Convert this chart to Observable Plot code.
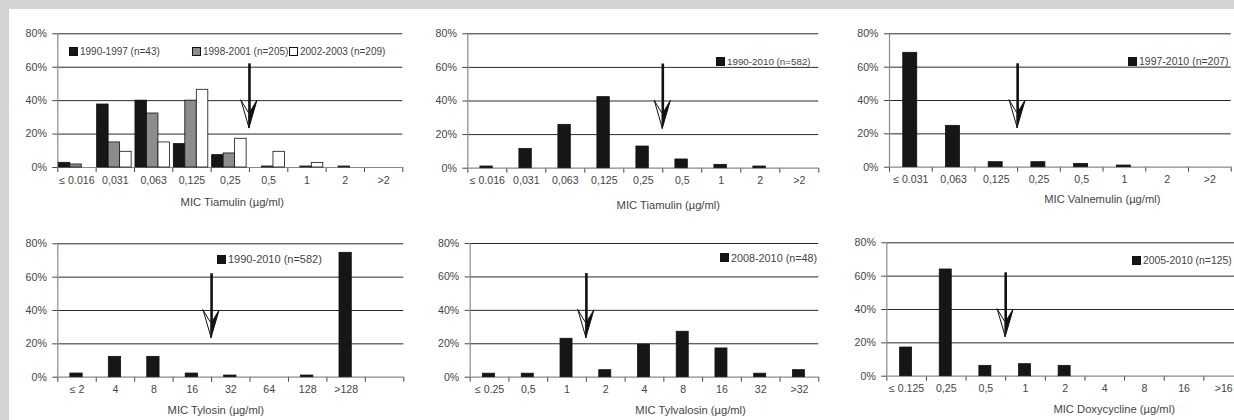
<!DOCTYPE html>
<html>
<head>
<meta charset="utf-8">
<script src="https://cdn.jsdelivr.net/npm/d3@7"></script>
<script src="https://cdn.jsdelivr.net/npm/@observablehq/plot@0.6"></script>
<style>
  html, body { margin: 0; padding: 0; overflow: hidden; background: #d3d3d3; }
  #wrap { position: relative; width: 1234px; height: 420px; overflow: hidden; background: #d3d3d3; font-family: 'Liberation Sans', Arial, sans-serif; }
  #paper { position: absolute; left: 9px; top: 9px; right: 0; bottom: 0; background: #fff; }
  .panel { position: absolute; }
  .legend { position: absolute; display: flex; align-items: center; height: 14px; color: #444; white-space: nowrap; }
  .sw { display: inline-block; width: 7px; height: 7px; border: 0.8px solid #111; margin-right: 2px; }
</style>
</head>
<body>
<div id="wrap"><div id="paper"></div></div>
<script>
// ---------- data ----------
const yTicks = [0, 20, 40, 60, 80];
const gridLevels = [20, 40, 60, 80];

const tiamulinCats = ["≤ 0.016", "0,031", "0,063", "0,125", "0,25", "0,5", "1", "2", ">2"];
const tiamulinSeriesNames = ["1990-1997 (n=43)", "1998-2001 (n=205)", "2002-2003 (n=209)"];
const tiamulin1990_1997 = [2.8, 37.7, 40, 14, 7.4, 0, 0, 0, 0];
const tiamulin1998_2001 = [1.8, 15, 32.3, 40, 8.4, 0.6, 0.6, 0.6, 0];
const tiamulin2002_2003 = [0, 9.4, 15, 46.5, 17.2, 9.4, 2.7, 0, 0];

const tiamulinAllName = "1990-2010 (n=582)";
const tiamulin1990_2010 = [1, 11.5, 25.8, 42.3, 12.9, 5.2, 2, 1, 0];

const valnemulinCats = ["≤ 0.031", "0,063", "0,125", "0,25", "0,5", "1", "2", ">2"];
const valnemulinName = "1997-2010 (n=207)";
const valnemulin = [68.6, 24.8, 3, 3, 2, 1, 0, 0];

const tylosinCats = ["≤ 2", "4", "8", "16", "32", "64", "128", ">128", ""];
const tylosinName = "1990-2010 (n=582)";
const tylosin = [2.2, 12.2, 12.2, 2.2, 1, 0, 1, 74.6, 0];

const tylvalosinCats = ["≤ 0.25", "0,5", "1", "2", "4", "8", "16", "32", ">32"];
const tylvalosinName = "2008-2010 (n=48)";
const tylvalosin = [2.1, 2.1, 23, 4.2, 19.5, 27.2, 17.2, 2.1, 4.2];

const doxyCats = ["≤ 0.125", "0,25", "0,5", "1", "2", "4", "8", "16", ">16"];
const doxyName = "2005-2010 (n=125)";
const doxycycline = [17.2, 64, 6.2, 7.2, 6.2, 0, 0, 0, 0];

// breakpoint arrows: index of the category boundary, and arrow levels in %
const arrowBreaks = [5, 5, 3, 4, 3, 3];
const arrowTop = 62, arrowHead = 40, arrowNotch = 32, arrowTip = 23.5;

const titles = ["MIC Tiamulin (µg/ml)", "MIC Tiamulin (µg/ml)", "MIC Valnemulin (µg/ml)",
                "MIC Tylosin (µg/ml)", "MIC Tylvalosin (µg/ml)", "MIC Doxycycline (µg/ml)"];

// ---------- styles ----------
const BLACK = "#161616", GREY = "#8c8c8c", WHITE = "#ffffff";
const FONT = "'Liberation Sans', Arial, sans-serif";

function panel(cfg) {
  const {left, top, width, height, ml, mr, mt, mb, cats, series, bar, arrowAt, title, tdx, tdy, fs, legend} = cfg;
  const n = cats.length;
  const step = (width - ml - mr) / n;
  const hw = 8 / step;
  const marks = [];
  marks.push(Plot.ruleY(gridLevels, {stroke: "#2a2a2a", strokeWidth: 1}));
  marks.push(Plot.ruleY([0], {stroke: "#8a8a8a", strokeWidth: 1.2}));
  marks.push(Plot.ruleX([0], {y1: 0, y2: 80, stroke: "#8a8a8a", strokeWidth: 1.2}));
  series.forEach((s, k) => {
    const data = s.values.map((v, i) => ({i, v})).filter(d => d.v > 0);
    let il, ir;
    if (series.length > 1) { il = bar.offset + k * bar.w; ir = step - il - bar.w; }
    else { il = (step - bar.w) / 2 + (bar.shift || 0); ir = step - il - bar.w; }
    marks.push(Plot.rect(data, {x1: "i", x2: d => d.i + 1, y1: () => 0, y2: "v",
      fill: s.fill, stroke: "#111", strokeWidth: 0.8, insetLeft: il, insetRight: ir}));
  });
  marks.push(Plot.text(cats, {x: (d, i) => i + 0.5, frameAnchor: "bottom", dy: 16, text: d => d}));
  marks.push(Plot.text([title], {frameAnchor: "bottom", dx: tdx, dy: tdy, text: d => d, fontSize: 11.2}));
  // arrow
  const k = arrowAt;
  marks.push(Plot.ruleX([k], {x: d => d, y1: arrowTop, y2: arrowNotch, stroke: "#111", strokeWidth: 2.6}));
  marks.push(Plot.area([{x: k - hw, a: arrowHead, b: arrowHead}, {x: k, a: arrowTip, b: arrowNotch}],
    {x1: "x", y1: "a", y2: "b", fill: "#fff", stroke: "#111", strokeWidth: 1}));
  marks.push(Plot.area([{x: k, a: arrowTip, b: arrowNotch}, {x: k + hw, a: arrowHead, b: arrowHead}],
    {x1: "x", y1: "a", y2: "b", fill: "#111", stroke: "#111", strokeWidth: 1}));

  const svg = Plot.plot({
    width, height, marginLeft: ml, marginRight: mr, marginTop: mt, marginBottom: mb,
    x: {type: "linear", domain: [0, n], ticks: d3.range(n + 1), tickFormat: () => "", tickSize: 5, label: null},
    y: {domain: [0, 80], ticks: yTicks, tickFormat: d => d + "%", tickSize: 5, tickPadding: 6, label: null},
    style: {background: "transparent", fontFamily: FONT, fontSize: fs + "px", color: "#454545", overflow: "visible"},
    marks
  });
  const div = document.createElement("div");
  div.className = "panel";
  div.style.left = left + "px";
  div.style.top = top + "px";
  div.style.width = width + "px";
  div.style.height = height + "px";
  div.appendChild(svg);
  document.getElementById("wrap").appendChild(div);

  legend.items.forEach((it, j) => {
    const el = document.createElement("div");
    el.className = "legend";
    el.style.left = legend.xs[j] + "px";
    el.style.top = (legend.y - 7) + "px";
    el.style.fontSize = legend.fs + "px";
    const sw = document.createElement("span");
    sw.className = "sw";
    sw.style.background = it.fill;
    el.appendChild(sw);
    el.appendChild(document.createTextNode(it.name));
    document.getElementById("wrap").appendChild(el);
  });
}

panel({left: 0, top: 0, width: 410, height: 215, ml: 57.3, mr: 7.7, mt: 33.3, mb: 48,
  cats: tiamulinCats,
  series: [{values: tiamulin1990_1997, fill: BLACK}, {values: tiamulin1998_2001, fill: GREY}, {values: tiamulin2002_2003, fill: WHITE}],
  bar: {offset: 1, w: 11.5}, arrowAt: arrowBreaks[0], title: titles[0], tdx: 2, tdy: 38, fs: 10.6,
  legend: {xs: [69, 192, 289], y: 51, fs: 10, items: [
    {name: tiamulinSeriesNames[0], fill: BLACK}, {name: tiamulinSeriesNames[1], fill: GREY}, {name: tiamulinSeriesNames[2], fill: WHITE}]}
});

panel({left: 410, top: 0, width: 420, height: 215, ml: 57.3, mr: 11.7, mt: 33.3, mb: 47.3,
  cats: tiamulinCats,
  series: [{values: tiamulin1990_2010, fill: BLACK}],
  bar: {w: 12.4, shift: -0.7}, arrowAt: arrowBreaks[1], title: titles[1], tdx: 25, tdy: 40.5, fs: 10.6,
  legend: {xs: [716], y: 61, fs: 9.8, items: [{name: tiamulinAllName, fill: BLACK}]}
});

panel({left: 820, top: 0, width: 414, height: 215, ml: 69, mr: 3.3, mt: 33.3, mb: 48.3,
  cats: valnemulinCats,
  series: [{values: valnemulin, fill: BLACK}],
  bar: {w: 14, shift: -0.6}, arrowAt: arrowBreaks[2], title: titles[2], tdx: 42, tdy: 36, fs: 10.6,
  legend: {xs: [1128], y: 61, fs: 10.5, items: [{name: valnemulinName, fill: BLACK}]}
});

panel({left: 0, top: 210, width: 410, height: 220, ml: 57.3, mr: 6.7, mt: 33.3, mb: 53.3,
  cats: tylosinCats,
  series: [{values: tylosin, fill: BLACK}],
  bar: {w: 12.3, shift: -0.5}, arrowAt: arrowBreaks[3], title: titles[3], tdx: -15, tdy: 36.5, fs: 10.6,
  legend: {xs: [217], y: 259.3, fs: 11, items: [{name: tylosinName, fill: BLACK}]}
});

panel({left: 410, top: 210, width: 420, height: 220, ml: 59.7, mr: 11.7, mt: 33, mb: 53.3,
  cats: tylvalosinCats,
  series: [{values: tylvalosin, fill: BLACK}],
  bar: {w: 12, shift: -0.5}, arrowAt: arrowBreaks[4], title: titles[4], tdx: 46, tdy: 36.5, fs: 10.6,
  legend: {xs: [720], y: 257.7, fs: 10.8, items: [{name: tylvalosinName, fill: BLACK}]}
});

panel({left: 820, top: 210, width: 430, height: 220, ml: 66.3, mr: 7, mt: 32.3, mb: 54.3,
  cats: doxyCats,
  series: [{values: doxycycline, fill: BLACK}],
  bar: {w: 12, shift: -0.5}, arrowAt: arrowBreaks[5], title: titles[5], tdx: 49, tdy: 36.5, fs: 10.6,
  legend: {xs: [1132], y: 260, fs: 10.4, items: [{name: doxyName, fill: BLACK}]}
});
</script>
</body>
</html>
